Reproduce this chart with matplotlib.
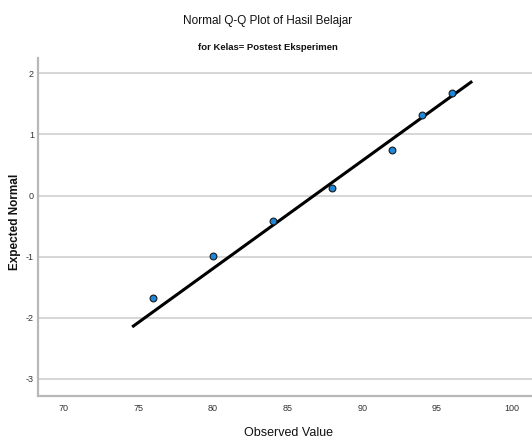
import matplotlib
matplotlib.use("Agg")
import matplotlib.pyplot as plt

plt.rcParams["axes.unicode_minus"] = False

observed = [76, 80, 84, 88, 92, 94, 96]
expected = [-1.67, -0.99, -0.42, 0.12, 0.75, 1.31, 1.67]
line_x = [74.6, 97.35]
line_mean = 86.77
line_sd = 5.66
x_ticks = [70, 75, 80, 85, 90, 95, 100]
y_ticks = [-3, -2, -1, 0, 1, 2]

font = "Liberation Sans"

fig = plt.figure(figsize=(5.32, 4.41), dpi=100)
ax = fig.add_axes([38/532, 1-396/441, 1-38/532, (396-58)/441])

line_y = [(x - line_mean) / line_sd for x in line_x]
ax.plot(line_x, line_y, color="black", lw=2.2, zorder=3, solid_capstyle="butt")
ax.scatter(observed, expected, s=24, facecolor="#1f86d8", edgecolor="#1a1a1a",
           linewidths=0.8, zorder=4)

ax.set_xlim(68.3, 101.35)
ax.set_ylim(-3.28, 2.25)
ax.set_xticks(x_ticks)
ax.set_yticks(y_ticks)
ax.grid(axis="y", color="#d0d0d0", lw=1.2)
ax.set_axisbelow(True)
for s in ["top", "right"]:
    ax.spines[s].set_visible(False)
for s in ["left", "bottom"]:
    ax.spines[s].set_color("#b8b8b8")
    ax.spines[s].set_linewidth(1.6)
ax.tick_params(length=0, labelsize=6.5, colors="#333333")
ax.tick_params(axis="x", pad=6)
ax.tick_params(axis="y", pad=3)
for lab in ax.get_xticklabels() + ax.get_yticklabels():
    lab.set_family(font)

fig.text(288/532, 1-433/441, "Observed Value", family=font, fontsize=9,
         ha="center", va="center", color="#111111")
fig.text(15/532, 1-222/441, "Expected Normal", family=font, fontsize=8.5,
         fontweight="bold", rotation=90, ha="center", va="center", color="#111111")

fig.text(268/532, 1-21/441, "Normal Q-Q Plot of Hasil Belajar", family=font,
         fontsize=8.5, ha="center", va="center", color="#111111")
fig.text(268/532, 1-47/441, "for Kelas= Postest Eksperimen", family=font,
         fontsize=6.8, fontweight="bold", ha="center", va="center", color="#111111")

fig.savefig("out.png", dpi=100)
